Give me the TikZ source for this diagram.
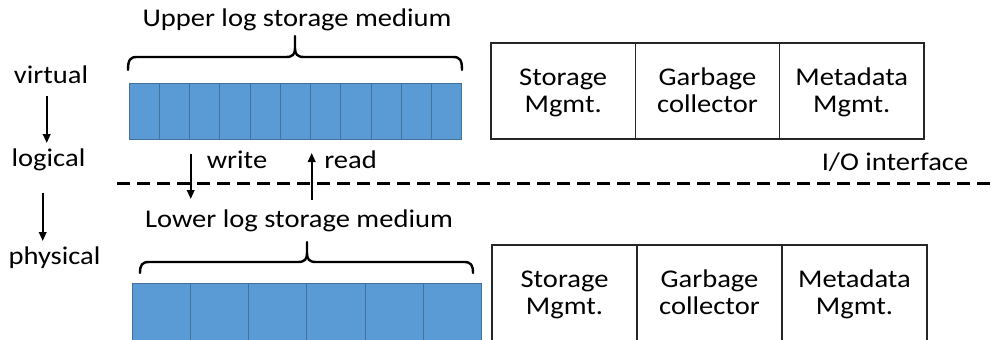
\documentclass[tikz,border=0pt]{standalone}
\usepackage{fontspec}
\setmainfont[FakeStretch=1.12]{Carlito}
\usetikzlibrary{arrows.meta}
\definecolor{cellblue}{HTML}{5B9BD5}
\definecolor{cellborder}{HTML}{41719C}
\newcommand\topstrut{\rule{0pt}{24.9pt}}
\tikzset{
  lbl/.style={font=\fontsize{25.5}{27}\selectfont, inner sep=0pt, anchor=base},
  cell/.style={draw=cellborder, fill=cellblue, line width=1pt, inner sep=0pt},
  tbox/.style={draw=black!85, line width=1.5pt, inner sep=0pt, align=center,
    font=\fontsize{25.5}{27}\selectfont},
  arr/.style={line width=2pt, -{Triangle[length=9pt,width=7.5pt]}},
  brc/.style={line width=2.4pt, line cap=round},
  sep/.style={line width=3pt, dash pattern=on 13pt off 7pt}
}
\newcommand\mybrace[6]{%
  \draw[brc] (#1,#4) .. controls (#1,#5+3) and (#1+2,#5) .. (#1+9,#5)
    -- (#3-9,#5) .. controls (#3-2,#5) and (#3,#5-3) .. (#3,#5-9) -- (#3,#6)
    (#3,#5-9) .. controls (#3,#5-3) and (#3+2,#5) .. (#3+9,#5)
    -- (#2-9,#5) .. controls (#2-2,#5) and (#2,#5+3) .. (#2,#4);}
\begin{document}
\begin{tikzpicture}[x=1pt,y=-1pt]
\clip (0,0) rectangle (991,340);
\fill[white] (0,0) rectangle (991,340);

% titles
\node[lbl] (uptitle) at (297,26) {Upper log storage medium};
\node[lbl] (lowtitle) at (299,227) {Lower log storage medium};

% braces
\mybrace{128}{462}{295}{70}{57}{36}
\mybrace{140}{473}{307}{273}{262}{242}

% upper cells
\foreach \i in {0,...,10}
  \node[cell, minimum width=30.27pt, minimum height=56pt] (u\i) at (129+15.135+30.27*\i,111) {};
% lower cells
\foreach \i in {0,...,5}
  \node[cell, minimum width=58.33pt, minimum height=64pt] (l\i) at (132+29.165+58.33*\i,315) {};

% upper table
\node[tbox, minimum width=144.3pt, minimum height=96pt] (us) at (563.2,91) {\topstrut Storage\\Mgmt.\strut};
\node[tbox, minimum width=144.3pt, minimum height=96pt] (ug) at (707.5,91) {\topstrut Garbage\\collector\strut};
\node[tbox, minimum width=144.3pt, minimum height=96pt] (um) at (851.8,91) {\topstrut Metadata\\Mgmt.\strut};
% lower table
\node[tbox, minimum width=145pt, minimum height=96pt] (ls) at (564.5,293) {\topstrut Storage\\Mgmt.\strut};
\node[tbox, minimum width=145pt, minimum height=96pt] (lg) at (709.5,293) {\topstrut Garbage\\collector\strut};
\node[tbox, minimum width=145pt, minimum height=96pt] (lm) at (854.5,293) {\topstrut Metadata\\Mgmt.\strut};

% left labels
\node[lbl] (virtual) at (51,83) {virtual};
\node[lbl] (logical) at (48.5,166) {logical};
\node[lbl] (physical) at (54.5,264) {physical};
\coordinate (v1) at (46.7,96);
\coordinate (v2) at (46.7,143);
\coordinate (p1) at (42.7,193);
\coordinate (p2) at (42.7,241);
\draw[arr] (v1) -- (v2);
\draw[arr] (p1) -- (p2);

% separator
\coordinate (dl) at (117,183);
\coordinate (dr) at (995,183);
\draw[sep] (dl) -- (dr);
\node[lbl] (io) at (895,170) {I/O interface};

% write / read
\node[lbl] (write) at (237,168) {write};
\node[lbl] (read) at (350.5,168) {read};
\coordinate (w1) at (190.7,154);
\coordinate (w2) at (190.7,199);
\coordinate (r1) at (311.7,200);
\coordinate (r2) at (311.7,153);
\draw[arr] (w1) -- (w2);
\draw[arr] (r1) -- (r2);
\end{tikzpicture}
\end{document}
